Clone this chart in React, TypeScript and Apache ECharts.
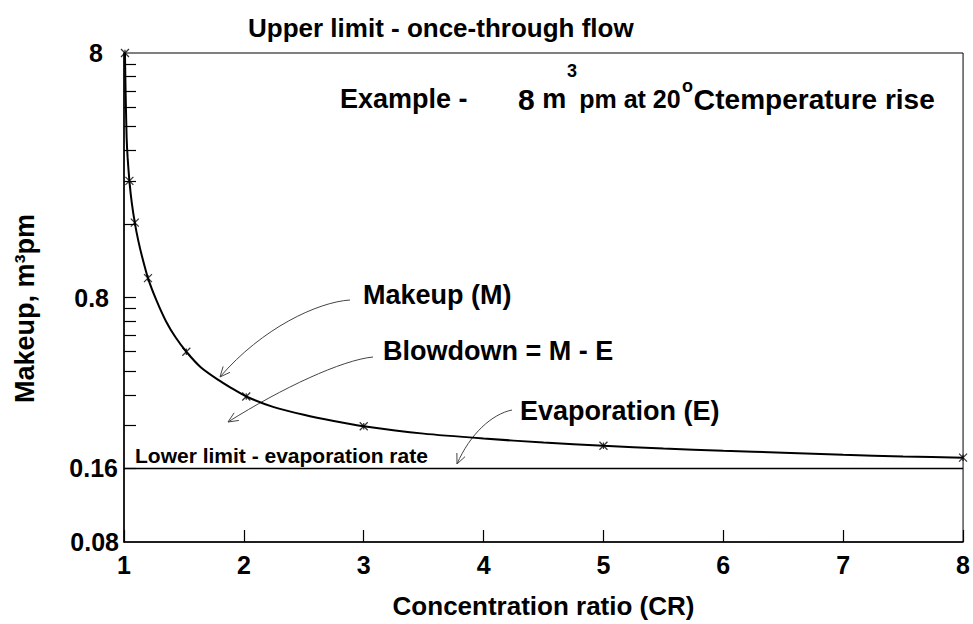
import React, { useEffect, useRef } from "react";
import * as echarts from "echarts";

// Makeup curve
const curveCR = [1.008, 1.012, 1.016, 1.022, 1.03, 1.045, 1.065, 1.09, 1.12, 1.15, 1.2, 1.27, 1.35, 1.43, 1.52, 1.64, 1.78, 1.9, 2.02, 2.25, 2.5, 2.75, 3, 3.5, 4, 4.5, 5, 5.5, 6, 6.5, 7, 7.5, 8];
const curveM = [8, 6.0, 4.8, 3.6, 3.0, 2.4, 1.95, 1.62, 1.36, 1.18, 0.96, 0.78, 0.64, 0.55, 0.48, 0.415, 0.37, 0.34, 0.315, 0.285, 0.265, 0.25, 0.238, 0.222, 0.212, 0.204, 0.198, 0.193, 0.189, 0.1855, 0.182, 0.179, 0.177];
// Plotted markers on the makeup curve
const markerCR = [1.008, 1.045, 1.09, 1.2, 1.52, 2.02, 3, 5, 8];
const markerM = [8, 2.4, 1.62, 0.96, 0.48, 0.315, 0.238, 0.198, 0.177];
// Evaporation (lower limit)
const evapCR = [1, 8];
const evapM = [0.16, 0.16];
// Axis tick values
const yLabelValues = [0.08, 0.16, 0.8, 8];
const yLabelTexts = ["0.08", "0.16", "0.8", "8"];
const yLabelRich = ["a", "b", "c", "d"];
const yTickValues = [0.16, 0.24, 0.32, 0.4, 0.48, 0.56, 0.64, 0.72, 0.8, 1.6, 2.4, 3.2, 4, 4.8, 5.6, 6.4, 7.2];

const FONT = '"Liberation Sans", Arial, Helvetica, sans-serif';

function arrowHead(tip: number[], from: number[], len = 11, ang = 0.42) {
  const a = Math.atan2(from[1] - tip[1], from[0] - tip[0]);
  return [
    [tip[0] + len * Math.cos(a + ang), tip[1] + len * Math.sin(a + ang)],
    tip,
    [tip[0] + len * Math.cos(a - ang), tip[1] + len * Math.sin(a - ang)],
  ];
}

function arrow(p0: number[], c1: number[], c2: number[], p1: number[]) {
  const stroke = { stroke: "#444", lineWidth: 1, fill: null };
  return [
    {
      type: "bezierCurve",
      shape: { x1: p0[0], y1: p0[1], cpx1: c1[0], cpy1: c1[1], cpx2: c2[0], cpy2: c2[1], x2: p1[0], y2: p1[1] },
      style: stroke,
    },
    { type: "polyline", shape: { points: arrowHead(p1, c2) }, style: stroke },
  ];
}

function txt(x: number, y: number, text: string, size: number) {
  return {
    type: "text",
    x,
    y,
    style: { text, fontSize: size, fontWeight: "bold", fontFamily: FONT, fill: "#000", verticalAlign: "middle", align: "left" },
  };
}

export default function App() {
  const ref = useRef<HTMLDivElement>(null);
  useEffect(() => {
    if (!ref.current) return;
    const chart = echarts.init(ref.current, null, { renderer: "svg" });
    const lbl = { fontSize: 25, fontWeight: "bold", fontFamily: FONT, color: "#000" };
    chart.setOption({
      animation: false,
      backgroundColor: "#fff",
      title: {
        text: "Upper limit - once-through flow",
        left: 248,
        top: 15,
        padding: 0,
        textStyle: { fontSize: 26, fontWeight: "bold", fontFamily: FONT, color: "#000" },
      },
      grid: { left: 124, right: 6, top: 53, bottom: 81, show: true, borderColor: "#000", borderWidth: 1, backgroundColor: "transparent" },
      xAxis: {
        type: "value",
        min: 1,
        max: 8,
        interval: 1,
        axisLine: { lineStyle: { color: "#000", width: 1.5 } },
        axisTick: { inside: true, length: 12, lineStyle: { color: "#000", width: 1.2 } },
        axisLabel: { ...lbl, margin: 10 },
        splitLine: { show: false },
        name: "Concentration ratio (CR)",
        nameLocation: "middle",
        nameGap: 51,
        nameTextStyle: { fontSize: 26, fontWeight: "bold", fontFamily: FONT, color: "#000" },
      },
      yAxis: {
        type: "log",
        logBase: 10,
        min: 0.08,
        max: 8,
        axisLine: { lineStyle: { color: "#000", width: 1.5 } },
        axisTick: { inside: true, length: 12, customValues: yTickValues, lineStyle: { color: "#000", width: 1.2 } },
        axisLabel: {
          ...lbl,
          margin: 5,
          customValues: yLabelValues,
          formatter: (v: number) => {
            let best = 0;
            yLabelValues.forEach((t, i) => {
              if (Math.abs(Math.log(t / v)) < Math.abs(Math.log(yLabelValues[best] / v))) best = i;
            });
            return "{" + yLabelRich[best] + "|" + yLabelTexts[best] + "}";
          },
          rich: {
            a: { ...lbl, padding: [0, 0, 0, 0] },
            b: { ...lbl, padding: [0, 1, 0, 0] },
            c: { ...lbl, padding: [0, 10, 0, 0] },
            d: { ...lbl, padding: [0, 16, 0, 0] },
          },
        },
        splitLine: { show: false },
        minorTick: { show: false },
        name: "Makeup, m³pm",
        nameLocation: "middle",
        nameRotate: 90,
        nameGap: 86,
        nameTextStyle: { fontSize: 27, fontWeight: "bold", fontFamily: FONT, color: "#000", padding: [0, 22, 0, 0] },
      },
      series: [
        {
          name: "Makeup (M)",
          type: "line",
          data: curveCR.map((x, i) => [x, curveM[i]]),
          showSymbol: false,
          smooth: 0.2,
          lineStyle: { color: "#000", width: 2 },
          silent: true,
        },
        {
          name: "Markers",
          type: "scatter",
          data: markerCR.map((x, i) => [x, markerM[i]]),
          symbol: "path://M0,0L10,10M10,0L0,10M5,1L5,9",
          symbolSize: 8,
          itemStyle: { color: "transparent", borderColor: "#000", borderWidth: 1.2 },
          silent: true,
        },
        {
          name: "Evaporation (E)",
          type: "line",
          data: evapCR.map((x, i) => [x, evapM[i]]),
          showSymbol: false,
          lineStyle: { color: "#000", width: 1.5 },
          silent: true,
        },
      ],
      graphic: [
        txt(340, 99, "Example -", 27),
        {
          type: "text",
          x: 518,
          y: 99,
          style: {
            text: "{b|8}{c| m}{w| }{d|pm at 20}{w2| }{b|C}{e|temperature rise}",
            verticalAlign: "middle",
            align: "left",
            fill: "#000",
            rich: {
              b: { fontSize: 30, fontWeight: "bold", fontFamily: FONT, fill: "#000" },
              c: { fontSize: 27, fontWeight: "bold", fontFamily: FONT, fill: "#000" },
              d: { fontSize: 25, fontWeight: "bold", fontFamily: FONT, fill: "#000" },
              e: { fontSize: 28, fontWeight: "bold", fontFamily: FONT, fill: "#000" },
              w: { width: 13, fontSize: 25 },
              w2: { width: 13, fontSize: 25 },
            },
          },
        },
        txt(567, 71, "3", 18),
        txt(682, 86, "o", 18),
        txt(363, 295, "Makeup (M)", 27),
        txt(383, 351, "Blowdown = M - E", 27),
        txt(520, 411, "Evaporation (E)", 27),
        txt(135, 455, "Lower limit - evaporation rate", 21),
        ...arrow([350, 300], [318, 302], [262, 328], [220, 377]),
        ...arrow([373, 357], [342, 360], [282, 388], [228, 422]),
        ...arrow([512, 410], [492, 414], [470, 434], [457, 464]),
      ],
    });
    return () => chart.dispose();
  }, []);
  return <div ref={ref} style={{ position: "fixed", left: 0, top: 0, width: 973, height: 624 }} />;
}
